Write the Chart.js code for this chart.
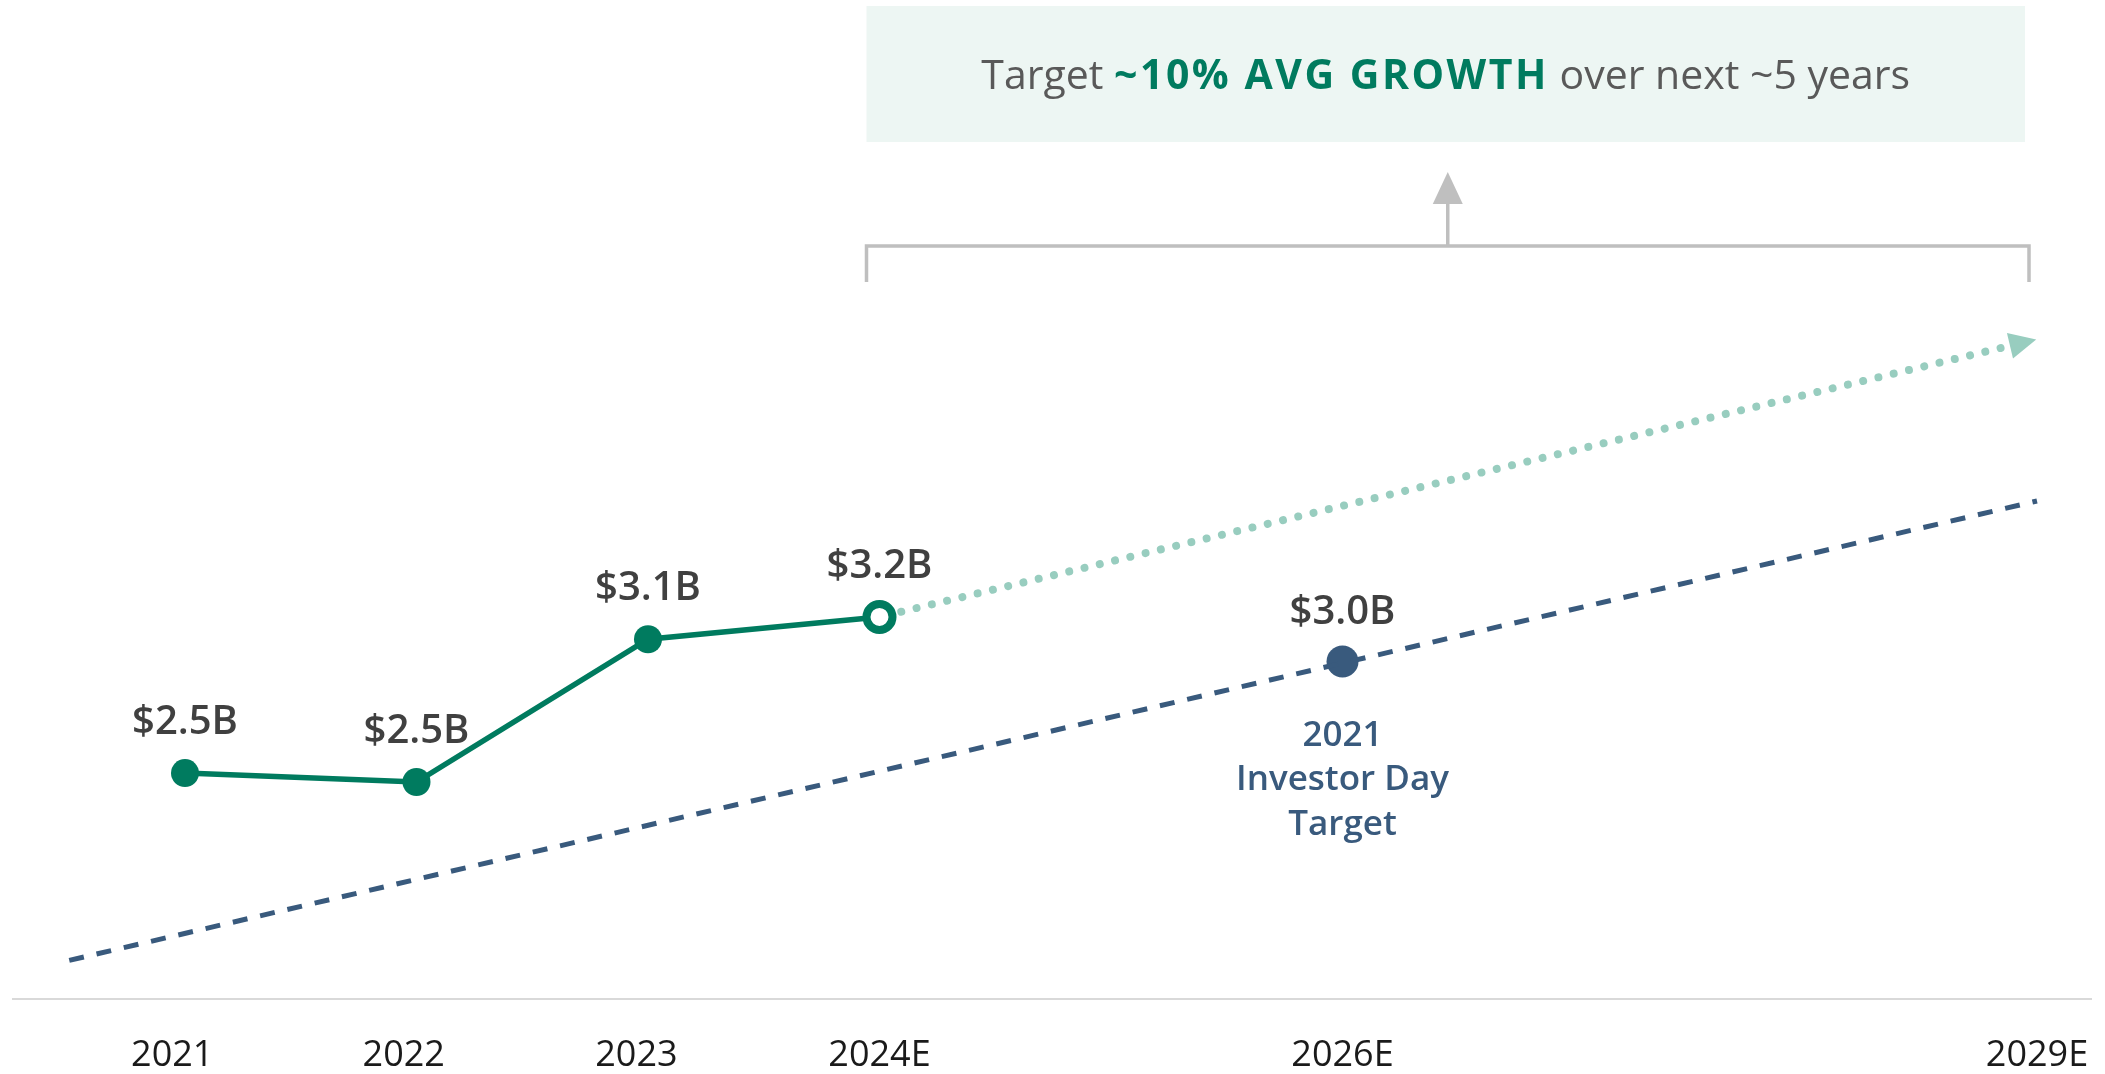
<!DOCTYPE html>
<html>
<head>
<meta charset="utf-8">
<title>Revenue growth target</title>
<script src="https://cdn.jsdelivr.net/npm/chart.js@4.4.1/dist/chart.umd.min.js"></script>
<style>
  html, body { margin: 0; padding: 0; background: #fff; overflow: hidden; }
  #wrap { width: 2105px; height: 1074px; overflow: hidden; }
</style>
</head>
<body>
<div id="wrap"><canvas id="growthChart" width="2105" height="1113"></canvas></div>
<script>
// values ($B)
const years = [2021, 2022, 2023, 2024];
const revenue = [2.50, 2.46, 3.10, 3.20];
const outlookYears = [2024, 2028.9];
const outlookValues = [3.20, 4.42];
const investorDayYears = [2020.5, 2029];
const investorDayValues = [1.66, 3.72];
const targetYears = [2026];
const targetValues = [3.0];
// tick label positions as placed in the picture (first three sit a bit left)
const tickYears = [2020.945, 2021.945, 2022.95, 2024, 2026, 2029];
const tickLabels = ["2021", "2022", "2023", "2024E", "2026E", "2029E"];
const targetNote = ["2021", "Investor Day", "Target"];
const calloutParts = [
    { text: "Target ", bold: false },
    { text: "~10% AVG GROWTH", bold: true },
    { text: " over next ~5 years", bold: false },
];

const GREEN = "#007b5f";
const NAVY = "#395a7d";
const MINT = "#98cdbf";
const GREY = "#bfbfbf";
const FONT = "'Open Sans', 'Noto Sans', sans-serif";

const toPoints = (xs, ys) => xs.map((x, i) => ({ x: x, y: ys[i] }));

const money = (v) => "$" + v.toFixed(1) + "B";

const overlay = {
    id: "overlay",
    beforeDatasetsDraw(chart) {
        const { ctx, chartArea } = chart;
        const x = chart.scales.x;
        const left = x.getPixelForValue(2024) - 13;
        const right = x.getPixelForValue(2029) - 8;
        const mid = (left + right) / 2;

        ctx.save();

        // axis baseline
        ctx.strokeStyle = "#d9d9d9";
        ctx.lineWidth = 2;
        ctx.beginPath();
        ctx.moveTo(chartArea.left + 12, chartArea.bottom);
        ctx.lineTo(chartArea.right - 13, chartArea.bottom);
        ctx.stroke();

        // callout box
        ctx.fillStyle = "#edf6f3";
        ctx.fillRect(left, 6, right - 4 - left, 136);

        ctx.textBaseline = "alphabetic";
        ctx.textAlign = "left";
        let total = 0;
        const widths = calloutParts.map((p) => {
            ctx.font = (p.bold ? "700 " : "400 ") + "41px " + FONT;
            ctx.letterSpacing = p.bold ? "2.5px" : "0px";
            const w = ctx.measureText(p.text).width;
            total += w;
            return w;
        });
        let tx = (left + right - 4) / 2 - total / 2;
        calloutParts.forEach((p, i) => {
            ctx.font = (p.bold ? "700 " : "400 ") + "41px " + FONT;
            ctx.letterSpacing = p.bold ? "2.5px" : "0px";
            ctx.fillStyle = p.bold ? GREEN : "#595959";
            ctx.fillText(p.text, tx, 89);
            tx += widths[i];
        });
        ctx.letterSpacing = "0px";

        // bracket with arrow
        ctx.strokeStyle = GREY;
        ctx.lineWidth = 3.5;
        ctx.beginPath();
        ctx.moveTo(left, 282);
        ctx.lineTo(left, 246);
        ctx.lineTo(right, 246);
        ctx.lineTo(right, 282);
        ctx.stroke();
        ctx.beginPath();
        ctx.moveTo(mid, 246);
        ctx.lineTo(mid, 200);
        ctx.stroke();
        ctx.fillStyle = GREY;
        ctx.beginPath();
        ctx.moveTo(mid, 172);
        ctx.lineTo(mid - 15, 204);
        ctx.lineTo(mid + 15, 204);
        ctx.closePath();
        ctx.fill();

        ctx.restore();
    },
    afterDatasetsDraw(chart) {
        const { ctx } = chart;
        ctx.save();

        // arrowhead at the end of the outlook line
        const pts = chart.getDatasetMeta(1).data;
        const a = pts[0], b = pts[pts.length - 1];
        const ang = Math.atan2(b.y - a.y, b.x - a.x);
        const c = Math.cos(ang), s = Math.sin(ang);
        ctx.fillStyle = MINT;
        ctx.beginPath();
        ctx.moveTo(b.x + 23 * c, b.y + 23 * s);
        ctx.lineTo(b.x - 4 * c - 13 * s, b.y - 4 * s + 13 * c);
        ctx.lineTo(b.x - 4 * c + 13 * s, b.y - 4 * s - 13 * c);
        ctx.closePath();
        ctx.fill();

        // value labels
        ctx.textAlign = "center";
        ctx.textBaseline = "alphabetic";
        ctx.font = "600 40px " + FONT;
        ctx.fillStyle = "#404040";
        chart.getDatasetMeta(0).data.forEach((pt, i) => {
            ctx.fillText(money(revenue[i]), pt.x, pt.y - 39);
        });
        const tp = chart.getDatasetMeta(3).data[0];
        ctx.fillText(money(targetValues[0]), tp.x, tp.y - 38);

        ctx.font = "600 35px " + FONT;
        ctx.fillStyle = NAVY;
        targetNote.forEach((line, i) => {
            ctx.fillText(line, tp.x, tp.y + 84 + i * 44.5);
        });

        ctx.restore();
    },
};

new Chart(document.getElementById("growthChart"), {
    type: "line",
    data: {
        datasets: [
            {
                label: "Actual",
                data: toPoints(years, revenue),
                borderColor: GREEN,
                borderWidth: 5.5,
                tension: 0,
                pointRadius: [14, 14, 14, 13],
                pointBorderWidth: [0, 0, 0, 8],
                pointBackgroundColor: [GREEN, GREEN, GREEN, "#ffffff"],
                pointBorderColor: GREEN,
            },
            {
                label: "Outlook",
                data: toPoints(outlookYears, outlookValues),
                borderColor: MINT,
                borderWidth: 8,
                borderCapStyle: "round",
                borderDash: [0.001, 15.7],
                borderDashOffset: 9,
                pointRadius: 0,
            },
            {
                label: "2021 Investor Day trend",
                data: toPoints(investorDayYears, investorDayValues),
                borderColor: NAVY,
                borderWidth: 5,
                borderDash: [15, 13],
                pointRadius: 0,
            },
            {
                label: "2021 Investor Day Target",
                data: toPoints(targetYears, targetValues),
                showLine: false,
                pointRadius: 16,
                pointBorderWidth: 0,
                pointBackgroundColor: NAVY,
                pointBorderColor: NAVY,
            },
        ],
    },
    options: {
        responsive: false,
        animation: false,
        events: [],
        layout: { padding: 0, autoPadding: false },
        plugins: {
            legend: { display: false },
            tooltip: { enabled: false },
        },
        scales: {
            x: {
                type: "linear",
                min: 2020.2009,
                max: 2029.2937,
                grid: { display: false, drawTicks: false },
                border: { display: false },
                afterBuildTicks: (scale) => {
                    scale.ticks = tickYears.map((v) => ({ value: v }));
                },
                afterFit: (scale) => {
                    scale.paddingLeft = 0;
                    scale.paddingRight = 0;
                },
                ticks: {
                    autoSkip: false,
                    maxRotation: 0,
                    padding: 35.4,
                    color: "#1a1a1a",
                    font: { family: FONT, size: 36 },
                    callback: (value, index) => tickLabels[index],
                },
            },
            y: {
                display: false,
                min: 1.487,
                max: 5.966,
            },
        },
    },
    plugins: [overlay],
});
</script>
</body>
</html>
